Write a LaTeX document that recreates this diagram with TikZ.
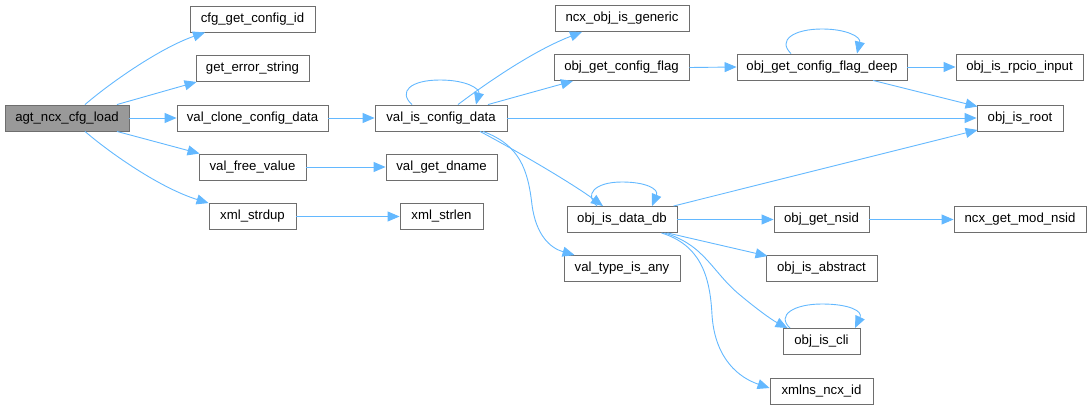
\documentclass[tikz,border=0pt]{standalone}
\usepackage{fontspec}
\setmainfont{Liberation Sans}
\usetikzlibrary{arrows.meta,calc}
\definecolor{edgeblue}{HTML}{63B8FF}
\definecolor{boxgray}{HTML}{6E6E6E}
\definecolor{rootfill}{HTML}{999999}
\begin{document}
\begin{tikzpicture}[x=1pt,y=-1pt,
  fn/.style={draw=boxgray, line width=0.9pt, fill=white, minimum height=26pt, inner sep=0pt, font=\fontsize{13.2}{15}\selectfont},
  rootfn/.style={fn, fill=rootfill},
  edge/.style={draw=edgeblue, line width=0.9pt, -{Triangle[length=12pt,width=10pt]}}]
\useasboundingbox (0,0) rectangle (1091,409);

% nodes
\node[rootfn, minimum width=124pt] (agt) at (67,118) {agt\_ncx\_cfg\_load};
\node[fn, minimum width=125pt] (cfgid) at (252.5,19) {cfg\_get\_config\_id};
\node[fn, minimum width=113pt] (geterr) at (252.5,68.5) {get\_error\_string};
\node[fn, minimum width=151pt] (valclone) at (252.5,118) {val\_clone\_config\_data};
\node[fn, minimum width=107pt] (valfree) at (252.5,167) {val\_free\_value};
\node[fn, minimum width=87pt] (xmlstrdup) at (252.5,216.5) {xml\_strdup};
\node[fn, minimum width=132pt] (valiscfg) at (441,118) {val\_is\_config\_data};
\node[fn, minimum width=111pt] (valgetdname) at (441.5,167) {val\_get\_dname};
\node[fn, minimum width=83pt] (xmlstrlen) at (441.5,216.5) {xml\_strlen};
\node[fn, minimum width=134pt] (ncxgeneric) at (622,18.5) {ncx\_obj\_is\_generic};
\node[fn, minimum width=135pt] (getcfgflag) at (621.5,67.5) {obj\_get\_config\_flag};
\node[fn, minimum width=110pt] (isdatadb) at (622,219.5) {obj\_is\_data\_db};
\node[fn, minimum width=116pt] (typeany) at (622,268.5) {val\_type\_is\_any};
\node[fn, minimum width=170pt] (deep) at (822,67) {obj\_get\_config\_flag\_deep};
\node[fn, minimum width=127pt] (rpcio) at (1019.5,67) {obj\_is\_rpcio\_input};
\node[fn, minimum width=86pt] (isroot) at (1020,118) {obj\_is\_root};
\node[fn, minimum width=95pt] (getnsid) at (821.5,219.5) {obj\_get\_nsid};
\node[fn, minimum width=132pt] (modnsid) at (1020,219.5) {ncx\_get\_mod\_nsid};
\node[fn, minimum width=111pt] (abstract) at (821.5,268.5) {obj\_is\_abstract};
\node[fn, minimum width=77pt] (iscli) at (821.5,341.5) {obj\_is\_cli};
\node[fn, minimum width=103pt] (xmlnsid) at (821.5,391) {xmlns\_ncx\_id};

% edges from agt_ncx_cfg_load
\draw[edge] ([xshift=18pt]agt.north) .. controls (110,83) and (160,48) .. ([xshift=-47.5pt]cfgid.south);
\draw[edge] ([xshift=50pt]agt.north) -- ([xshift=1pt]geterr.south west);
\draw[edge] (agt.east) -- (valclone.west);
\draw[edge] ([xshift=50pt]agt.south) -- ([xshift=1pt]valfree.north west);
\draw[edge] ([xshift=18pt]agt.south) .. controls (110,153) and (160,188) .. (xmlstrdup.north west);

% second column
\draw[edge] (valclone.east) -- (valiscfg.west);
\draw[edge] (valfree.east) -- (valgetdname.west);
\draw[edge] (xmlstrdup.east) -- (xmlstrlen.west);

% val_is_config_data
\draw[edge] ([xshift=-29pt]valiscfg.north) .. controls (398,92) and (410,80) .. (440,80) .. controls (467,80) and (480,89) .. ([xshift=35pt]valiscfg.north);
\draw[edge] ([xshift=17pt]valiscfg.north) .. controls (480,88) and (530,52) .. ([xshift=-40pt]ncxgeneric.south);
\draw[edge] ([xshift=47pt]valiscfg.north) -- ([xshift=-48.5pt]getcfgflag.south);
\draw[edge] (valiscfg.east) -- (isroot.west);
\draw[edge] ([xshift=39pt]valiscfg.south) .. controls (515,150) and (570,182) .. ([xshift=-19pt]isdatadb.north);
\draw[edge] ([xshift=42pt]valiscfg.south) .. controls (520,145) and (528,170) .. (532,205) .. controls (536,235) and (550,248) .. ([xshift=11pt]typeany.north west);

% obj_get_config_flag
\draw[edge] (getcfgflag.east) -- (deep.west);
\draw[edge] ([xshift=-31pt]deep.north) .. controls (777,40) and (794,29) .. (822,29) .. controls (847,29) and (861,37) .. ([xshift=35pt]deep.north);
\draw[edge] (deep.east) -- (rpcio.west);
\draw[edge] ([xshift=51pt]deep.south) -- ([xshift=1pt,yshift=-2pt]isroot.north west);

% obj_is_data_db
\draw[edge] ([xshift=-4pt]isdatadb.north east) -- ([xshift=1pt,yshift=1.5pt]isroot.south west);
\draw[edge] ([xshift=-25pt]isdatadb.north) .. controls (584,195) and (594,182) .. (622,182) .. controls (646,182) and (659,189) .. ([xshift=30pt]isdatadb.north);
\draw[edge] (isdatadb.east) -- (getnsid.west);
\draw[edge] ([xshift=-10pt]isdatadb.south east) -- ([xshift=2pt,yshift=-1pt]abstract.north west);
\draw[edge] ([xshift=-13pt]isdatadb.south east) .. controls (705,245) and (712,272) .. (740,295) .. controls (758,310) and (772,320) .. ([xshift=5pt]iscli.north west);
\draw[edge] ([xshift=-16pt]isdatadb.south east) .. controls (700,245) and (710,275) .. (712,315) .. controls (715,360) and (740,378) .. ([yshift=3pt]xmlnsid.west);

% obj_get_nsid, obj_is_cli
\draw[edge] (getnsid.east) -- (modnsid.west);
\draw[edge] ([xshift=-31.5pt]iscli.north) .. controls (776,315) and (794,304) .. (822,304) .. controls (849,304) and (863,311) .. ([xshift=33.5pt]iscli.north);
\end{tikzpicture}
\end{document}
